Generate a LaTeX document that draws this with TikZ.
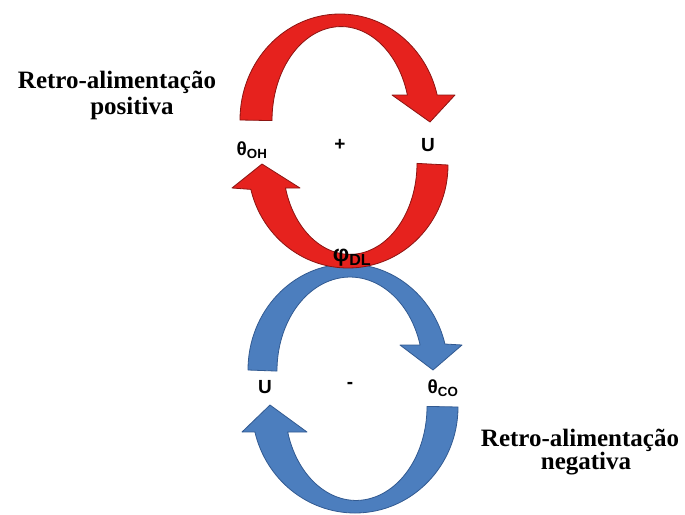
\documentclass[tikz,border=0pt]{standalone}
\usepackage{fontspec}
\setmainfont{Liberation Serif}
\newfontfamily\lsans{Liberation Sans}
\definecolor{redfill}{RGB}{230,34,30}
\definecolor{reddraw}{RGB}{140,20,18}
\definecolor{bluefill}{RGB}{76,126,190}
\definecolor{bluedraw}{RGB}{50,90,145}
\begin{document}
\begin{tikzpicture}[x=1pt,y=-1pt,
  redarrow/.style={fill=redfill,draw=reddraw,line width=0.8pt,line join=round},
  bluearrow/.style={fill=bluefill,draw=bluedraw,line width=0.8pt,line join=round},
  caption/.style={font=\fontsize{25}{25}\selectfont\bfseries,inner sep=0pt},
  sym/.style={font=\lsans\fontsize{19}{19}\selectfont\bfseries,inner sep=0pt}]
\useasboundingbox (0,0) rectangle (685,514);
% blue top arrow
\path[bluearrow] (248,370) arc[start angle=180,end angle=345.8,x radius=100,y radius=106]
  -- (462,345) -- (433,370) -- (400,345) -- (420.1,345)
  arc[start angle=343.9,end angle=180,x radius=73,y radius=94] -- cycle;
% blue bottom arrow
\path[bluearrow] (458,407) arc[start angle=0,end angle=166.4,x radius=103,y radius=106]
  -- (242,432) -- (270,405) -- (307,432) -- (287.7,432)
  arc[start angle=164.2,end angle=0,x radius=71,y radius=94] -- cycle;
% red top arrow
\path[redarrow] (240,120) arc[start angle=180,end angle=346.4,x radius=100,y radius=106]
  -- (455,95) -- (430,122) -- (392,95) -- (407.4,95)
  arc[start angle=344.2,end angle=180,x radius=69,y radius=94] -- cycle;
% red bottom arrow
\path[redarrow] (448,165) arc[start angle=0,end angle=166.3,x radius=100,y radius=103]
  -- (232,188) -- (262,164) -- (300,188) -- (285.5,188)
  arc[start angle=164.3,end angle=0,x radius=67,y radius=91] -- cycle;
% labels
\node[caption] (rp1) at (117,82) {Retro-alimentação};
\node[caption] (rp2) at (132,108) {positiva};
\node[caption] (rn1) at (580,440) {Retro-alimentação};
\node[caption] (rn2) at (586,464) {negativa};
\node[sym] (toh) at (252,150) {θ\textsubscript{OH}};
\node[sym] (plus) at (340,145) {+};
\node[sym] (ur) at (428,145) {U};
\node[sym] (ub) at (265,387) {U};
\node[sym] (minus) at (350,385) {-};
\node[sym] (tco) at (443,388) {θ\textsubscript{CO}};
\node[sym,font=\lsans\fontsize{23}{23}\selectfont\bfseries] (phi) at (352,258) {φ\textsubscript{DL}};
\end{tikzpicture}
\end{document}
